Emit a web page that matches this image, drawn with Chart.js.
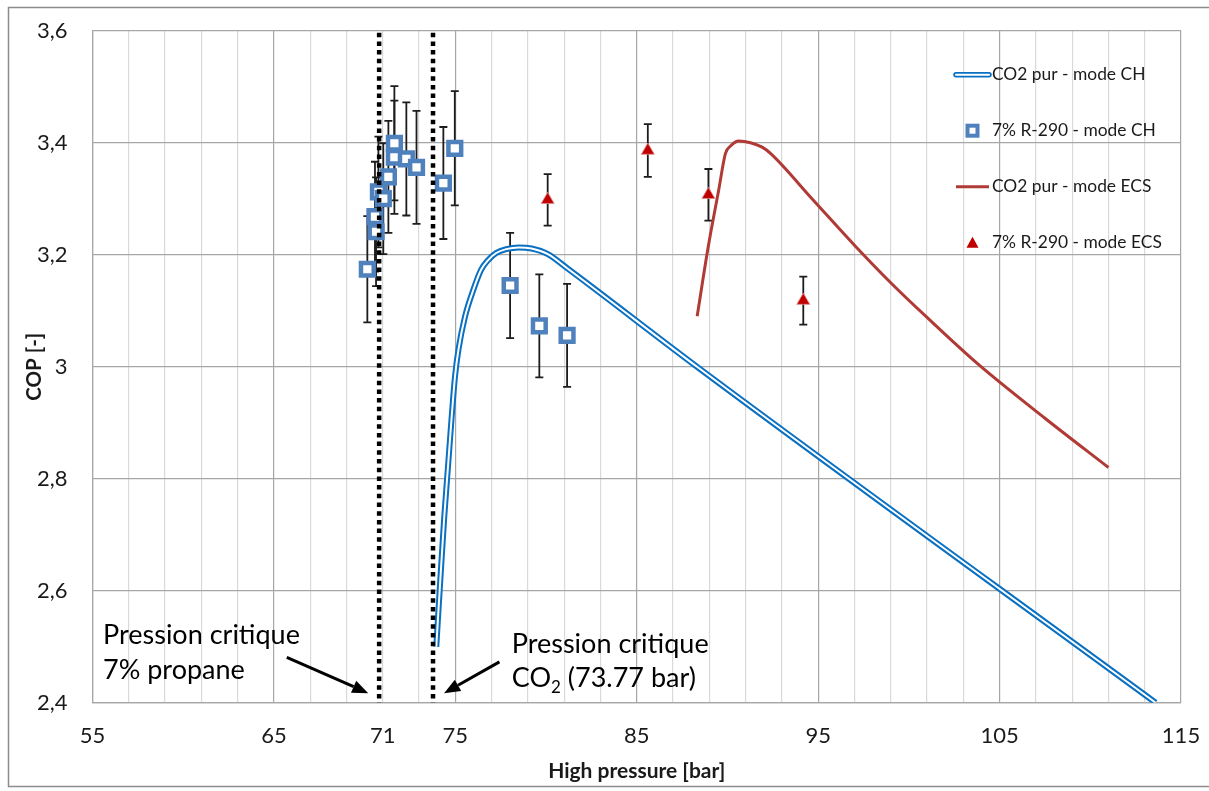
<!DOCTYPE html>
<html><head><meta charset="utf-8">
<script src="https://cdn.jsdelivr.net/npm/chart.js@4.4.1/dist/chart.umd.min.js"></script>
<style>html,body{margin:0;padding:0;background:#fff;}#wrap{width:1209px;height:791px;position:relative;overflow:hidden}</style>
</head><body><div id="wrap"><canvas id="c" width="1209" height="791"></canvas></div>
<script>
// ---------- DATA ----------
const seriesNames = ['CO2 pur - mode CH', '7% R-290 - mode CH', 'CO2 pur - mode ECS', '7% R-290 - mode ECS'];

const co2CH_x = [73.95, 74.16, 74.39, 74.61, 74.80, 74.98, 75.17, 75.53, 75.99, 76.42, 76.8, 77.25, 77.8, 78.5, 79.2, 80.1, 81.2, 88.4, 113.6];
const co2CH_y = [2.50, 2.613, 2.732, 2.828, 2.911, 2.982, 3.03, 3.089, 3.137, 3.173, 3.19, 3.203, 3.210, 3.213, 3.211, 3.201, 3.175, 2.998, 2.40];

const r290CH_x   = [70.15, 70.57, 70.63, 70.76, 71.03, 71.31, 71.64, 71.64, 72.30, 72.86, 74.34, 74.97, 78.02, 79.63, 81.16];
const r290CH_y   = [3.174, 3.268, 3.241, 3.312, 3.300, 3.339, 3.374, 3.399, 3.371, 3.356, 3.328, 3.390, 3.145, 3.073, 3.056];
const r290CH_err = [0.095, 0.098, 0.097, 0.099, 0.099, 0.100, 0.101, 0.102, 0.101, 0.101, 0.100, 0.102, 0.094, 0.092, 0.092];

const co2ECS_x = [88.33, 88.94, 89.52, 89.89, 90.17, 90.62, 91.27, 91.91, 92.37, 94.66, 97.0, 99.0, 101.0, 103.8, 107.5, 111.0];
const co2ECS_y = [3.09, 3.214, 3.316, 3.381, 3.394, 3.403, 3.40, 3.392, 3.381, 3.30, 3.217, 3.15, 3.088, 3.005, 2.908, 2.82];

const r290ECS_x   = [80.09, 85.61, 88.95, 94.18];
const r290ECS_y   = [3.298, 3.386, 3.307, 3.118];
const r290ECS_err = [0.046, 0.047, 0.046, 0.043];

const xMajorTicks = [55, 65, 75, 85, 95, 105, 115];
const xLabelTicks = [55, 65, 71, 75, 85, 95, 105, 115];
const xRange = [55, 115];
const yRange = [2.4, 3.6];
const critPressures = [70.8, 73.77];
const annoLines1 = ['Pression critique', '7% propane'];
const annoLines2 = ['Pression critique', 'CO', '2', ' (73.77 bar)'];
const axisTitles = ['High pressure [bar]', 'COP [-]'];

// ---------- BUILD ----------
const pts = (xs, ys) => xs.map((x, i) => ({x: x, y: ys[i]}));
const FONT = 'Lato, "Open Sans", sans-serif';
const BLUE = '#0a70c2';
const RED = '#b03a36';
const SQ = '#4f81bd';
const TRI = '#c00000';

function drawArrow(ctx, x1, y1, x2, y2) {
  const a = Math.atan2(y2 - y1, x2 - x1);
  const hl = 16, hw = 6.5;
  const bx = x2 - hl * Math.cos(a), by = y2 - hl * Math.sin(a);
  ctx.beginPath(); ctx.moveTo(x1, y1); ctx.lineTo(bx, by);
  ctx.lineWidth = 3; ctx.strokeStyle = '#000'; ctx.stroke();
  ctx.beginPath();
  ctx.moveTo(x2, y2);
  ctx.lineTo(bx + hw * Math.sin(a), by - hw * Math.cos(a));
  ctx.lineTo(bx - hw * Math.sin(a), by + hw * Math.cos(a));
  ctx.closePath(); ctx.fillStyle = '#000'; ctx.fill();
}

const decor = {
  id: 'decor',
  beforeDraw(chart) {
    const c = chart.ctx; c.save(); c.fillStyle = '#fff'; c.fillRect(0, 0, chart.width, chart.height); c.restore();
  },
  beforeDatasetsDraw(chart) {
    const c = chart.ctx, xs = chart.scales.x, ys = chart.scales.y, a = chart.chartArea;
    c.save();
    c.beginPath(); c.rect(a.left, a.top, a.right - a.left, a.bottom - a.top); c.clip();
    c.strokeStyle = '#1c1c1c'; c.lineWidth = 1.8;
    const bars = (X, Y, E) => X.forEach((x, i) => {
      const px = xs.getPixelForValue(x);
      const t = ys.getPixelForValue(Y[i] + E[i]), b = ys.getPixelForValue(Y[i] - E[i]);
      c.beginPath();
      c.moveTo(px, t); c.lineTo(px, b);
      c.moveTo(px - 4, t); c.lineTo(px + 4, t);
      c.moveTo(px - 4, b); c.lineTo(px + 4, b);
      c.stroke();
    });
    bars(r290CH_x, r290CH_y, r290CH_err);
    bars(r290ECS_x, r290ECS_y, r290ECS_err);
    c.restore();
  },
  afterDatasetsDraw(chart) {
    const c = chart.ctx, xs = chart.scales.x, ys = chart.scales.y, a = chart.chartArea;
    c.save();
    // dotted critical-pressure lines
    c.strokeStyle = '#000'; c.lineWidth = 4.5; c.setLineDash([4.5, 4.2]);
    critPressures.forEach(p => {
      const px = xs.getPixelForValue(p);
      c.beginPath(); c.moveTo(px, a.top + 2); c.lineTo(px, a.bottom); c.stroke();
    });
    c.setLineDash([]);
    // annotations
    c.fillStyle = '#000'; c.textBaseline = 'alphabetic'; c.textAlign = 'left';
    c.font = '27px ' + FONT;
    const tx1 = xs.getPixelForValue(55.58);
    c.fillText(annoLines1[0], tx1, ys.getPixelForValue(2.505));
    c.fillText(annoLines1[1], tx1, ys.getPixelForValue(2.442));
    const tx2 = xs.getPixelForValue(78.11);
    c.fillText(annoLines2[0], tx2, ys.getPixelForValue(2.488));
    const by2 = ys.getPixelForValue(2.428);
    c.fillText(annoLines2[1], tx2, by2);
    let w = c.measureText(annoLines2[1]).width;
    c.font = '17px ' + FONT;
    c.fillText(annoLines2[2], tx2 + w, by2 + 6);
    w += c.measureText(annoLines2[2]).width;
    c.font = '27px ' + FONT;
    c.fillText(annoLines2[3], tx2 + w, by2);
    drawArrow(c, xs.getPixelForValue(65.71), ys.getPixelForValue(2.481), xs.getPixelForValue(70.2), ys.getPixelForValue(2.417));
    drawArrow(c, xs.getPixelForValue(77.43), ys.getPixelForValue(2.473), xs.getPixelForValue(74.38), ys.getPixelForValue(2.417));
    c.restore();
  },
  afterDraw(chart) {
    const c = chart.ctx, a = chart.chartArea;
    c.save();
    // legend
    const mx = a.right - 208.5, lx0 = a.right - 227, lx1 = a.right - 191, tx = a.right - 189;
    c.font = '17.4px ' + FONT; c.fillStyle = '#1a1a1a'; c.textBaseline = 'middle'; c.textAlign = 'left';
    seriesNames.forEach((name, i) => {
      const y = a.top + 44 + i * 56;
      if (i === 0) {
        c.lineCap = 'round';
        c.strokeStyle = BLUE; c.lineWidth = 5.5;
        c.beginPath(); c.moveTo(lx0 + 2, y); c.lineTo(lx1 - 1, y); c.stroke();
        c.strokeStyle = '#fff'; c.lineWidth = 2;
        c.beginPath(); c.moveTo(lx0 + 2, y); c.lineTo(lx1 - 1, y); c.stroke();
        c.lineCap = 'butt';
      } else if (i === 1) {
        c.strokeStyle = SQ; c.lineWidth = 4; c.fillStyle = '#fff';
        c.fillRect(mx - 5, y - 5, 10, 10); c.strokeRect(mx - 5, y - 5, 10, 10);
      } else if (i === 2) {
        c.strokeStyle = RED; c.lineWidth = 3;
        c.beginPath(); c.moveTo(lx0 + 2, y); c.lineTo(lx1 - 1, y); c.stroke();
      } else {
        c.fillStyle = TRI;
        c.beginPath(); c.moveTo(mx, y - 6); c.lineTo(mx + 6, y + 5); c.lineTo(mx - 6, y + 5); c.closePath(); c.fill();
      }
      c.fillStyle = '#1a1a1a';
      c.fillText(name, tx, y);
    });
    // outer frame
    c.strokeStyle = '#8c8c8c'; c.lineWidth = 1.5;
    c.strokeRect(8.5, 7.5, chart.width + 10, 779);
    c.restore();
  }
};

new Chart(document.getElementById('c'), {
  type: 'scatter',
  data: {
    datasets: [
      {label: seriesNames[0], data: pts(co2CH_x, co2CH_y), showLine: true, borderColor: BLUE, borderWidth: 6, pointRadius: 0, cubicInterpolationMode: 'monotone', order: 6},
      {label: '_inner', data: pts(co2CH_x, co2CH_y), showLine: true, borderColor: '#fff', borderWidth: 2, pointRadius: 0, cubicInterpolationMode: 'monotone', order: 5},
      {label: seriesNames[2], data: pts(co2ECS_x, co2ECS_y), showLine: true, borderColor: RED, borderWidth: 3, pointRadius: 0, cubicInterpolationMode: 'monotone', order: 4},
      {label: seriesNames[1], data: pts(r290CH_x, r290CH_y), showLine: false, pointStyle: 'rect', pointRadius: 9, borderColor: SQ, borderWidth: 4.5, backgroundColor: '#fff', order: 1},
      {label: seriesNames[3], data: pts(r290ECS_x, r290ECS_y), showLine: false, pointStyle: 'triangle', pointRadius: 7.5, borderColor: 'rgba(225,140,140,0.85)', borderWidth: 1, backgroundColor: TRI, order: 0}
    ]
  },
  options: {
    responsive: false, animation: false, devicePixelRatio: 1, events: [],
    layout: {padding: {top: 30.7, right: 28, left: 0, bottom: 0}},
    plugins: {legend: {display: false}, tooltip: {enabled: false}},
    scales: {
      x: {
        type: 'linear', min: xRange[0], max: xRange[1],
        afterBuildTicks(s) { const t = []; for (let v = xRange[0]; v <= xRange[1]; v += 2) t.push({value: v}); s.ticks = t; },
        afterFit(s) { s.height = 88.3; s.paddingLeft = 0; s.paddingRight = 0; },
        ticks: {autoSkip: false, maxRotation: 0, padding: 20, color: '#1a1a1a', font: {family: FONT, size: 22},
          callback: v => xLabelTicks.includes(v) ? String(v) : ''},
        grid: {drawTicks: false, color: ctx => (ctx.tick && xMajorTicks.includes(ctx.tick.value)) ? '#a6a6a6' : '#d9d9d9', lineWidth: 1.2},
        border: {color: '#a6a6a6', width: 1.2},
        title: {display: true, text: axisTitles[0], color: '#1a1a1a', font: {family: FONT, size: 21, weight: 'bold'}, padding: {top: 0, bottom: 7}}
      },
      y: {
        type: 'linear', min: yRange[0], max: yRange[1],
        afterFit(s) { s.width = 92.5; s.paddingTop = 0; s.paddingBottom = 0; },
        ticks: {stepSize: 0.2, padding: 25, color: '#1a1a1a', font: {family: FONT, size: 22},
          callback: v => String(Math.round(v * 10) / 10).replace('.', ',')},
        grid: {drawTicks: false, color: '#a6a6a6', lineWidth: 1.2},
        border: {color: '#a6a6a6', width: 1.2},
        title: {display: true, text: axisTitles[1], color: '#1a1a1a', font: {family: FONT, size: 20.5, weight: 'bold'}, padding: {top: 22, bottom: 0}}
      }
    }
  },
  plugins: [decor]
});
</script></body></html>
